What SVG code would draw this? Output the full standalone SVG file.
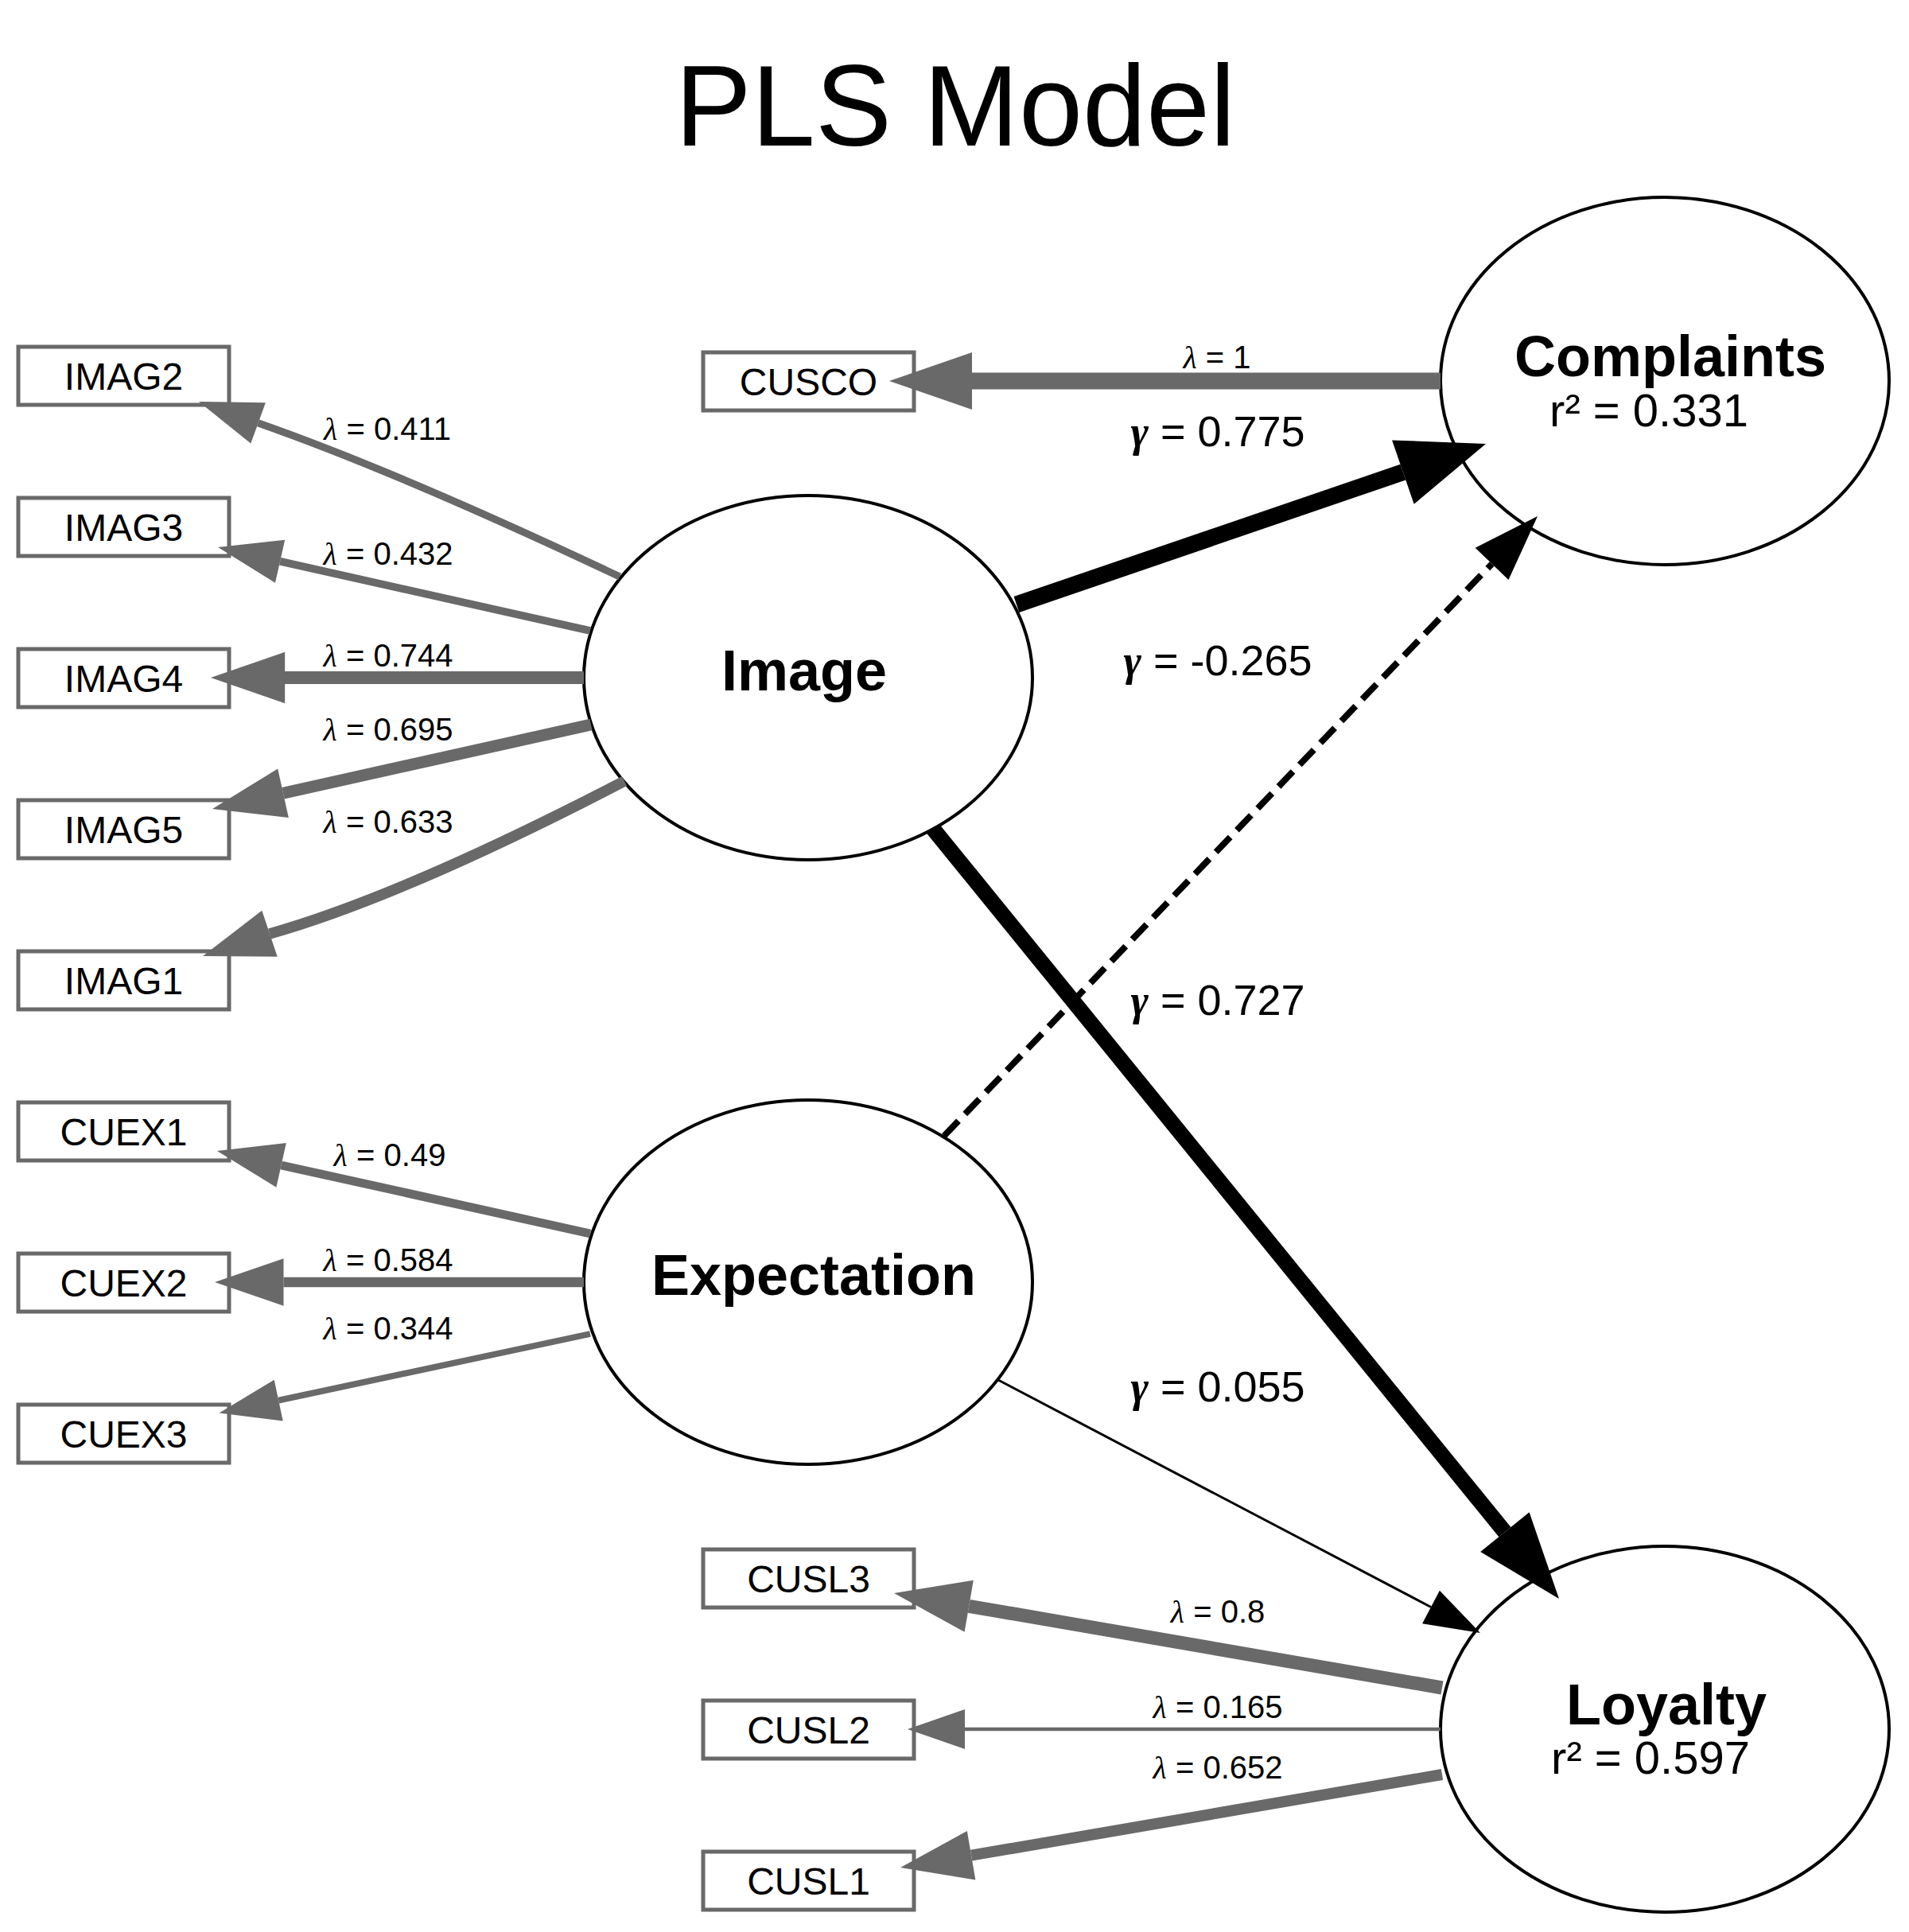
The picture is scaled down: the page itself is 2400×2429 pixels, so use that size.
<svg xmlns="http://www.w3.org/2000/svg" width="2400" height="2429" viewBox="0 0 2400 2429">
<style>
.bg{fill:#fff}
.box{fill:#fff;stroke:#696969;stroke-width:5}
.lat{fill:#fff;stroke:#000;stroke-width:4}
text{font-family:"Liberation Sans",Arial,sans-serif;fill:#000;text-anchor:middle}
.title{font-size:144px}
.bt{font-size:48px}
.nt{font-size:72px;font-weight:bold}
.r2{font-size:58px}
.ll{font-size:40px}
.gl{font-size:54px}
.lam{font-family:"Liberation Serif",serif;font-style:italic}
.gam{font-family:"Liberation Serif",serif;font-style:italic;font-weight:bold}
.ld{fill:none;stroke:#696969}
.ah{fill:#696969}
.pd{fill:none;stroke:#000}
.ph{fill:#000}
</style>
<rect class="bg" x="0" y="0" width="2400" height="2429"/>
<text class="title" x="1201" y="183">PLS Model</text>

<g id="IMAG2"><rect class="box" x="23" y="436" width="265" height="73"/><text class="bt" x="155.5" y="489.5">IMAG2</text></g>
<g id="IMAG3"><rect class="box" x="23" y="626" width="265" height="73"/><text class="bt" x="155.5" y="679.5">IMAG3</text></g>
<g id="IMAG4"><rect class="box" x="23" y="816" width="265" height="73"/><text class="bt" x="155.5" y="869.5">IMAG4</text></g>
<g id="IMAG5"><rect class="box" x="23" y="1006" width="265" height="73"/><text class="bt" x="155.5" y="1059.5">IMAG5</text></g>
<g id="IMAG1"><rect class="box" x="23" y="1196" width="265" height="73"/><text class="bt" x="155.5" y="1249.5">IMAG1</text></g>
<g id="CUEX1"><rect class="box" x="23" y="1386" width="265" height="73"/><text class="bt" x="155.5" y="1439.5">CUEX1</text></g>
<g id="CUEX2"><rect class="box" x="23" y="1576" width="265" height="73"/><text class="bt" x="155.5" y="1629.5">CUEX2</text></g>
<g id="CUEX3"><rect class="box" x="23" y="1766" width="265" height="73"/><text class="bt" x="155.5" y="1819.5">CUEX3</text></g>
<g id="CUSCO"><rect class="box" x="884" y="443" width="265" height="73"/><text class="bt" x="1016.5" y="496.5">CUSCO</text></g>
<g id="CUSL3"><rect class="box" x="884" y="1948" width="265" height="73"/><text class="bt" x="1016.5" y="2001.5">CUSL3</text></g>
<g id="CUSL2"><rect class="box" x="884" y="2138" width="265" height="73"/><text class="bt" x="1016.5" y="2191.5">CUSL2</text></g>
<g id="CUSL1"><rect class="box" x="884" y="2328" width="265" height="73"/><text class="bt" x="1016.5" y="2381.5">CUSL1</text></g>

<g id="Image"><ellipse class="lat" cx="1016" cy="852" rx="282" ry="229"/><text class="nt" x="1011" y="868">Image</text></g>
<g id="Expectation"><ellipse class="lat" cx="1016" cy="1612" rx="282" ry="229"/><text class="nt" x="1023" y="1628">Expectation</text></g>
<g id="Complaints"><ellipse class="lat" cx="2093" cy="479" rx="282" ry="231"/><text class="nt" x="2100" y="473">Complaints</text><text class="r2" x="2073" y="536">r² = 0.331</text></g>
<g id="Loyalty"><ellipse class="lat" cx="2093" cy="2174" rx="282" ry="230"/><text class="nt" x="2095" y="2168">Loyalty</text><text class="r2" x="2075" y="2230">r² = 0.597</text></g>

<g id="connectors">
<path class="ld" stroke-width="9.2" d="M779 725 Q502 594 324.6 531.9"/>
<polygon class="ah" points="250,505 333.9,506.2 315.3,557.6"/>
<path class="ld" stroke-width="9.6" d="M742 793 L352.1 705.8"/>
<polygon class="ah" points="274,688 358.2,678.8 346,732.8"/>
<path class="ld" stroke-width="15.9" d="M734 852 L358 852"/>
<polygon class="ah" points="265,852 358.2,819.8 358.2,884.2"/>
<path class="ld" stroke-width="14.9" d="M743 911 L356 997.2"/>
<polygon class="ah" points="267,1017 362.8,1027.9 349.2,966.5"/>
<path class="ld" stroke-width="13.7" d="M785 982 Q508 1126 339 1174"/>
<polygon class="ah" points="255,1202 348.7,1202.8 329.3,1144.8"/>
<path class="ld" stroke-width="10.8" d="M742 1551 L353.6 1464.9"/>
<polygon class="ah" points="273,1447 359.8,1437.1 347.4,1492.7"/>
<path class="ld" stroke-width="12.7" d="M734 1612 L356.5 1612"/>
<polygon class="ah" points="270,1612 356.5,1582.2 356.5,1641.8"/>
<path class="ld" stroke-width="7.9" d="M742 1677 L350.2 1760.6"/>
<polygon class="ah" points="275.5,1776.5 355.7,1786.4 344.7,1734.8"/>
<path class="ld" stroke-width="21" d="M1811 479 L1222 479"/>
<polygon class="ah" points="1118,479 1222,443.1 1222,514.9"/>
<path class="ld" stroke-width="17" d="M1813 2122 L1218.2 2019.3"/>
<polygon class="ah" points="1124,2003 1223.8,1986.8 1212.6,2051.8"/>
<path class="ld" stroke-width="4.6" d="M1811 2174 L1213 2174"/>
<polygon class="ah" points="1141,2174 1213,2149 1213,2199"/>
<path class="ld" stroke-width="14" d="M1813 2231 L1221.1 2332.7"/>
<polygon class="ah" points="1132,2348 1226.4,2363.4 1215.8,2302"/>
<path class="pd" stroke-width="21" d="M1278 760 L1763.9 593.6"/>
<polygon class="ph" points="1868,558 1777.7,633.8 1750.1,553.4"/>
<path class="pd" stroke-width="8" stroke-dasharray="26,12" d="M1187 1428 L1875.6 708.9"/>
<polygon class="ph" points="1933,649 1896.5,729 1854.7,688.8"/>
<path class="pd" stroke-width="19.5" d="M1173 1042 L1891.9 1926.2"/>
<polygon class="ph" points="1960,2010 1861.2,1951.1 1922.6,1901.3"/>
<path class="pd" stroke-width="3" d="M1255 1735 L1799 2020.5"/>
<polygon class="ph" points="1861,2053 1788.1,2041.3 1809.9,1999.7"/>
</g>

<g id="labels">
<text class="ll" x="487" y="553"><tspan class="lam">λ</tspan> = 0.411</text>
<text class="ll" x="488" y="710"><tspan class="lam">λ</tspan> = 0.432</text>
<text class="ll" x="488" y="838"><tspan class="lam">λ</tspan> = 0.744</text>
<text class="ll" x="488" y="931"><tspan class="lam">λ</tspan> = 0.695</text>
<text class="ll" x="488" y="1047"><tspan class="lam">λ</tspan> = 0.633</text>
<text class="ll" x="490" y="1466"><tspan class="lam">λ</tspan> = 0.49</text>
<text class="ll" x="488" y="1598"><tspan class="lam">λ</tspan> = 0.584</text>
<text class="ll" x="488" y="1684"><tspan class="lam">λ</tspan> = 0.344</text>
<text class="ll" x="1530" y="463"><tspan class="lam">λ</tspan> = 1</text>
<text class="ll" x="1531" y="2040"><tspan class="lam">λ</tspan> = 0.8</text>
<text class="ll" x="1531" y="2160"><tspan class="lam">λ</tspan> = 0.165</text>
<text class="ll" x="1531" y="2236"><tspan class="lam">λ</tspan> = 0.652</text>
<text class="gl" x="1531" y="561"><tspan class="gam">γ</tspan> = 0.775</text>
<text class="gl" x="1531" y="849"><tspan class="gam">γ</tspan> = -0.265</text>
<text class="gl" x="1531" y="1276"><tspan class="gam">γ</tspan> = 0.727</text>
<text class="gl" x="1531" y="1762"><tspan class="gam">γ</tspan> = 0.055</text>
</g>
</svg>
